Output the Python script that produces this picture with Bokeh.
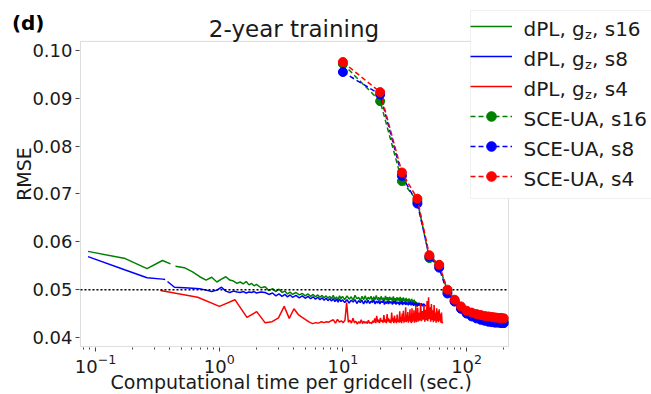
from bokeh.plotting import figure
from bokeh.models import (Range1d, FixedTicker, PrintfTickFormatter, Legend,
                          LegendItem, Label, LinearAxis, BoxAnnotation, Title)
from bokeh.embed import file_html
from bokeh.resources import INLINE

nan = float("nan")

# ---------------- data ----------------
y_ticks = [0.04, 0.05, 0.06, 0.07, 0.08, 0.09, 0.10]
x_ticks = [0.1, 1, 10, 100]
x_minor_ticks = [0.08, 0.09, 0.2, 0.3, 0.4, 0.5, 0.6, 0.7, 0.8, 0.9,
                 2, 3, 4, 5, 6, 7, 8, 9, 20, 30, 40, 50, 60, 70, 80, 90, 200]
x_limits = (0.0756, 218.0)       # axes box of the reference
y_limits = (0.0381, 0.1019)
threshold = 0.05

# SCE-UA
sce_x = [10, 20, 30, 40, 50, 60, 70, 80, 90, 100, 110, 120, 130, 140, 150,
         160, 170, 180, 190, 200]
sce_s16 = [0.0972, 0.0894, 0.0727, 0.0685, 0.0566, 0.0551, 0.0497, 0.0477,
           0.0462, 0.0452, 0.0447, 0.0443, 0.0440, 0.0438, 0.0437, 0.0436,
           0.0435, 0.0434, 0.0434, 0.0433]
sce_s8 = [0.0955, 0.0908, 0.0738, 0.0680, 0.0569, 0.0546, 0.0492, 0.0475,
          0.0460, 0.0450, 0.0444, 0.0440, 0.0437, 0.0435, 0.0433, 0.0432,
          0.0431, 0.0431, 0.0430, 0.0430]
sce_s4 = [0.0976, 0.0913, 0.0745, 0.0690, 0.0572, 0.0552, 0.0500, 0.0479,
          0.0465, 0.0456, 0.0452, 0.0449, 0.0447, 0.0445, 0.0444, 0.0443,
          0.0442, 0.0441, 0.0441, 0.0440]

# dPL, s16
dpl16_x = [0.087, 0.174, 0.261, 0.348, 0.404, nan, 0.443, 0.522, 0.609, 0.696,
           0.783, 0.870, 0.957, 1.044, 1.131, 1.218, 1.305, 1.392, 1.479, 1.566,
           1.653, 1.740, 1.827, 1.914, 2.001, 2.175, 2.349, 2.523, 2.697, 2.871,
           3.045, 3.219, 3.393, 3.567, 3.741, 3.915, 4.176, 4.437, 4.698, 4.959,
           5.220, 5.481, 5.742, 6.003, 6.264, 6.525, 6.786, 7.047, 7.308, 7.569,
           7.830, 8.091, 8.352, 8.613, 8.874, 9.135, 9.396, 9.657, 9.918, 10.35,
           10.79, 11.22, 11.66, 12.09, 12.53, 12.96, 13.40, 13.83, 14.27, 14.70,
           15.14, 15.57, 16.01, 16.44, 16.88, 17.31, 17.75, 18.18, 18.62, 19.05,
           19.49, 19.92, 20.36, 20.79, 21.23, 21.66, 22.10, 22.53, 22.97, 23.40,
           23.84, 24.27, 24.71, 25.14, 25.58, 26.01, 26.45, 26.88, 27.32, 27.75,
           28.19, 28.62, 29.06, 29.49, 29.93, 30.36, 30.80, 31.23, 31.67, 32.10,
           32.54, 32.97, 33.41, 33.84, 34.28, 34.71, 35.15, 35.58, 36.02, 36.45,
           36.89, 37.32, 37.76, 38.19, 38.63, 39.06, 39.50, 39.93, 40.37, 40.80]
dpl16_y = [0.0580, 0.0565, 0.0544, 0.0561, 0.0554, nan, 0.0549, 0.0546, 0.0537, 0.0527,
           0.0520, 0.0526, 0.0516, 0.0522, 0.0527, 0.0520, 0.0518, 0.0513, 0.0516, 0.0512,
           0.0517, 0.0510, 0.0513, 0.0508, 0.0511, 0.0504, 0.0506, 0.0498, 0.0502, 0.0496,
           0.0501, 0.0494, 0.0497, 0.0491, 0.0495, 0.0490, 0.0494, 0.0489, 0.0492, 0.0487,
           0.0491, 0.0486, 0.0490, 0.0485, 0.0489, 0.0484, 0.0488, 0.0483, 0.0487, 0.0482,
           0.0486, 0.0481, 0.0488, 0.0480, 0.0485, 0.0479, 0.0487, 0.0481, 0.0486, 0.0479,
           0.0487, 0.0480, 0.0485, 0.0478, 0.0488, 0.0481, 0.0484, 0.0477, 0.0486, 0.0479,
           0.0487, 0.0478, 0.0484, 0.0480, 0.0486, 0.0477, 0.0485, 0.0479, 0.0488, 0.0478,
           0.0484, 0.0477, 0.0486, 0.0479, 0.0483, 0.0476, 0.0487, 0.0478, 0.0484, 0.0476,
           0.0485, 0.0479, 0.0483, 0.0475, 0.0486, 0.0477, 0.0482, 0.0476, 0.0484, 0.0477,
           0.0483, 0.0475, 0.0485, 0.0476, 0.0482, 0.0474, 0.0484, 0.0476, 0.0481, 0.0473,
           0.0483, 0.0475, 0.0480, 0.0472, 0.0482, 0.0474, 0.0479, 0.0471, 0.0481, 0.0473,
           0.0478, 0.0468, 0.0479, 0.0470, 0.0476, 0.0466, 0.0474, 0.0464, 0.0471, 0.0466]

# dPL, s8
dpl8_x = [0.087, 0.174, 0.261, 0.348, 0.366, nan, 0.382, 0.435, 0.522, 0.609,
          0.696, 0.783, 0.870, 0.957, 1.044, 1.131, 1.218, 1.305, 1.392, 1.479,
          1.566, 1.653, 1.740, 1.827, 1.914, 2.001, 2.175, 2.349, 2.523, 2.697,
          2.871, 3.045, 3.219, 3.393, 3.567, 3.741, 3.915, 4.176, 4.437, 4.698,
          4.959, 5.220, 5.481, 5.742, 6.003, 6.264, 6.525, 6.786, 7.047, 7.308,
          7.569, 7.830, 8.091, 8.352, 8.613, 8.874, 9.135, 9.396, 9.657, 9.918,
          10.35, 10.79, 11.22, 11.66, 12.09, 12.53, 12.96, 13.40, 13.83, 14.27,
          14.70, 15.14, 15.57, 16.01, 16.44, 16.88, 17.31, 17.75, 18.18, 18.62,
          19.05, 19.49, 19.92, 20.36, 20.79, 21.23, 21.66, 22.10, 22.53, 22.97,
          23.40, 23.84, 24.27, 24.71, 25.14, 25.58, 26.01, 26.45, 26.88, 27.32,
          27.75, 28.19, 28.62, 29.06, 29.49, 29.93, 30.36, 30.80, 31.23, 31.67,
          32.10, 32.54, 32.97, 33.41, 33.84, 34.28, 34.71, 35.15, 35.58, 36.02,
          36.45, 36.89, 37.32, 37.76, 38.19, 38.63, 39.06, 39.50, 39.93, 40.37,
          40.80, 41.24, 41.67, 42.11, 42.54, 42.98, 43.41, 43.85, 44.28, 44.72,
          45.15, 45.59, 46.02, 46.46]
dpl8_y = [0.0569, 0.0541, 0.0525, 0.0522, 0.0521, nan, 0.0517, 0.0505, 0.0504, 0.0503,
          0.0502, 0.0499, 0.0496, 0.0499, 0.0505, 0.0497, 0.0494, 0.0497, 0.0495, 0.0494,
          0.0496, 0.0493, 0.0495, 0.0494, 0.0496, 0.0493, 0.0495, 0.0494, 0.0490, 0.0493,
          0.0487, 0.0491, 0.0486, 0.0490, 0.0485, 0.0489, 0.0484, 0.0488, 0.0483, 0.0487,
          0.0482, 0.0486, 0.0481, 0.0485, 0.0480, 0.0484, 0.0479, 0.0483, 0.0478, 0.0482,
          0.0477, 0.0481, 0.0476, 0.0481, 0.0475, 0.0480, 0.0474, 0.0480, 0.0475, 0.0479,
          0.0473, 0.0479, 0.0472, 0.0478, 0.0474, 0.0479, 0.0471, 0.0477, 0.0473, 0.0478,
          0.0470, 0.0477, 0.0472, 0.0478, 0.0471, 0.0476, 0.0473, 0.0479, 0.0470, 0.0476,
          0.0472, 0.0477, 0.0470, 0.0476, 0.0473, 0.0478, 0.0469, 0.0475, 0.0471, 0.0477,
          0.0470, 0.0476, 0.0472, 0.0475, 0.0469, 0.0476, 0.0471, 0.0477, 0.0469, 0.0475,
          0.0471, 0.0474, 0.0468, 0.0475, 0.0470, 0.0476, 0.0468, 0.0474, 0.0470, 0.0475,
          0.0468, 0.0474, 0.0469, 0.0473, 0.0467, 0.0474, 0.0469, 0.0475, 0.0467, 0.0473,
          0.0468, 0.0474, 0.0466, 0.0472, 0.0468, 0.0473, 0.0466, 0.0472, 0.0467, 0.0471,
          0.0466, 0.0473, 0.0467, 0.0471, 0.0465, 0.0472, 0.0466, 0.0470, 0.0465, 0.0471,
          0.0466, 0.0470, 0.0465, 0.0468]

# dPL, s4
dpl4_x = [0.335, 0.670, 1.005, 1.340, 1.675, 2.010, 2.345, 2.680, 3.015, 3.350,
          3.685, 4.020, 4.355, 4.690, 5.025, 5.360, 5.695, 6.030, 6.365, 6.700,
          7.035, 7.370, 7.705, 8.040, 8.375, 8.710, 9.045, 9.380, 9.715, 10.05,
          10.39, 10.72, 11.06, 11.39, 11.73, 12.06, 12.40, 12.73, 13.07, 13.40,
          13.74, 14.07, 14.41, 14.74, 15.08, 15.41, 15.75, 16.08, 16.42, 16.75,
          17.09, 17.42, 17.76, 18.09, 18.43, 18.76, 19.10, 19.43, 19.77, 20.10,
          20.44, 20.77, 21.11, 21.44, 21.78, 22.11, 22.45, 22.78, 23.12, 23.45,
          23.79, 24.12, 24.46, 24.79, 25.13, 25.46, 25.80, 26.13, 26.47, 26.80,
          27.14, 27.47, 27.81, 28.14, 28.48, 28.81, 29.15, 29.48, 29.82, 30.15,
          30.49, 30.82, 31.16, 31.49, 31.83, 32.16, 32.50, 32.83, 33.17, 33.50,
          33.84, 34.17, 34.51, 34.84, 35.18, 35.51, 35.85, 36.18, 36.52, 36.85,
          37.19, 37.52, 37.86, 38.19, 38.53, 38.86, 39.20, 39.53, 39.87, 40.20,
          40.54, 41.21, 41.88, 42.55, 43.22, 43.89, 44.56, 45.23, 45.90, 46.57,
          47.24, 47.91, 48.58, 49.25, 49.92, 50.59, 51.26, 51.93, 52.60, 53.27,
          53.94, 54.61, 55.28, 55.95, 56.62, 57.29, 57.96, 58.63, 59.30, 59.97,
          60.64, 61.31, 61.98, 62.65, 63.32, 63.99]
dpl4_y = [0.0498, 0.0484, 0.0465, 0.0479, 0.0442, 0.0454, 0.0431, 0.0433, 0.0441, 0.0465,
          0.0440, 0.0460, 0.0448, 0.0442, 0.0437, 0.0432, 0.0429, 0.0431, 0.0430, 0.0433,
          0.0431, 0.0433, 0.0432, 0.0435, 0.0437, 0.0430, 0.0438, 0.0432, 0.0435, 0.0431,
          0.0436, 0.0473, 0.0432, 0.0436, 0.0430, 0.0440, 0.0431, 0.0434, 0.0428, 0.0433,
          0.0430, 0.0437, 0.0429, 0.0434, 0.0430, 0.0433, 0.0429, 0.0436, 0.0430, 0.0431,
          0.0429, 0.0435, 0.0431, 0.0440, 0.0430, 0.0445, 0.0432, 0.0437, 0.0430, 0.0441,
          0.0433, 0.0436, 0.0431, 0.0447, 0.0432, 0.0438, 0.0430, 0.0449, 0.0433, 0.0440,
          0.0431, 0.0437, 0.0430, 0.0452, 0.0433, 0.0441, 0.0430, 0.0446, 0.0432, 0.0439,
          0.0430, 0.0448, 0.0433, 0.0436, 0.0431, 0.0455, 0.0432, 0.0443, 0.0430, 0.0450,
          0.0434, 0.0456, 0.0431, 0.0441, 0.0433, 0.0463, 0.0432, 0.0447, 0.0434, 0.0453,
          0.0431, 0.0444, 0.0435, 0.0459, 0.0432, 0.0448, 0.0430, 0.0461, 0.0433, 0.0442,
          0.0436, 0.0457, 0.0431, 0.0450, 0.0434, 0.0466, 0.0432, 0.0445, 0.0437, 0.0462,
          0.0433, 0.0452, 0.0435, 0.0471, 0.0434, 0.0455, 0.0437, 0.0468, 0.0433, 0.0458,
          0.0436, 0.0476, 0.0434, 0.0484, 0.0438, 0.0463, 0.0433, 0.0470, 0.0436, 0.0457,
          0.0432, 0.0468, 0.0435, 0.0452, 0.0431, 0.0461, 0.0434, 0.0455, 0.0432, 0.0459,
          0.0435, 0.0449, 0.0431, 0.0452, 0.0430, 0.0433]

GREEN, BLUE, RED = "#008000", "#0000ff", "#ff0000"
FONT = "DejaVu Sans"
TXT = "#1a1a1a"
SPINE = "#8c8c8c"

# view ranges: the frame is stretched to the top/right canvas edges so the
# title and the legend (which stick out of the axes box) are not clipped
x_view = (0.07424, 3124.0)
y_view = (0.037905, 0.110454)
tag_y = 0.10585          # vertical place of the "(d)" panel tag

p = figure(width=651, height=394, x_axis_type="log",
           x_range=Range1d(*x_view), y_range=Range1d(*y_view),
           toolbar_location=None, output_backend="svg", title=None,
           min_border_left=79, min_border_right=0,
           min_border_top=0, min_border_bottom=47)
p.grid.visible = False
p.outline_line_color = None

p.yaxis.ticker = FixedTicker(ticks=y_ticks)
p.yaxis.formatter = PrintfTickFormatter(format="%.2f")
p.xaxis.ticker = FixedTicker(ticks=x_ticks, minor_ticks=x_minor_ticks)
for ax in (p.xaxis[0], p.yaxis[0]):
    ax.major_label_text_font = FONT
    ax.major_label_text_font_size = "18px"
    ax.major_label_text_color = TXT
    ax.axis_line_color = None
    ax.major_tick_line_color = "#444444"
    ax.minor_tick_line_color = "#444444"
    ax.major_tick_in = 0
    ax.major_tick_out = 4
    ax.minor_tick_in = 0
p.yaxis.minor_tick_out = 0
p.xaxis.minor_tick_out = 2
p.yaxis.major_label_standoff = 3
p.xaxis.major_label_standoff = 2
p.yaxis.axis_label = "RMSE"
p.yaxis.axis_label_text_font = FONT
p.yaxis.axis_label_text_font_size = "19px"
p.yaxis.axis_label_text_font_style = "normal"
p.yaxis.axis_label_text_color = TXT
p.yaxis.axis_label_standoff = -6

# "(d)" tag: an outer left axis that only carries one bold label
tag_axis = LinearAxis(ticker=FixedTicker(ticks=[tag_y]),
                      major_label_overrides={tag_y: "(d)"},
                      axis_line_color=None, major_tick_line_color=None,
                      minor_tick_line_color=None, major_tick_out=0,
                      major_tick_in=0, minor_tick_out=0, minor_tick_in=0,
                      major_label_standoff=-34,
                      major_label_text_font=FONT,
                      major_label_text_font_size="20px",
                      major_label_text_font_style="bold",
                      major_label_text_color="black")
p.add_layout(tag_axis, "left")

# x-axis label as a title below the axis, aligned on the axes box
xlab = Title(text="Computational time per gridcell (sec.)", align="left",
             offset=31, text_font=FONT, text_font_size="19px",
             text_font_style="normal", text_color=TXT, standoff=-14)
p.add_layout(xlab, "below")

# axes box (spines)
p.add_layout(BoxAnnotation(left=x_limits[0], right=x_limits[1],
                           bottom=y_limits[0], top=y_limits[1],
                           fill_alpha=0, fill_color=None,
                           line_color=SPINE, line_width=1))

# dPL lines
r16 = p.line(dpl16_x, dpl16_y, line_color=GREEN, line_width=1.5)
r8 = p.line(dpl8_x, dpl8_y, line_color=BLUE, line_width=1.5)
r4 = p.line(dpl4_x, dpl4_y, line_color=RED, line_width=1.5)

# threshold
p.segment(x0=[x_limits[0]], x1=[x_limits[1]], y0=[threshold], y1=[threshold],
          line_color="black", line_width=1.5, line_dash="2 2")

# SCE-UA dashed lines with markers
sce = []
for ys, col in ((sce_s16, GREEN), (sce_s8, BLUE), (sce_s4, RED)):
    ln = p.line(sce_x, ys, line_color=col, line_width=1.5, line_dash="5 3")
    sc = p.scatter(sce_x, ys, marker="circle", size=9, fill_color=col,
                   line_color=col)
    sce.append([ln, sc])

# legend frame (opaque, covers the top-right corner of the axes box);
# screen units are relative to the frame's bottom-left corner
p.add_layout(BoxAnnotation(left=391, right=700, bottom=149, top=337,
                           left_units="screen", right_units="screen",
                           bottom_units="screen", top_units="screen",
                           fill_color="white", fill_alpha=1.0,
                           line_color="#cccccc", line_width=1))

legend = Legend(items=[
    LegendItem(label="dPL, gz, s16", renderers=[r16]),
    LegendItem(label="dPL, gz, s8", renderers=[r8]),
    LegendItem(label="dPL, gz, s4", renderers=[r4]),
    LegendItem(label="SCE-UA, s16", renderers=sce[0]),
    LegendItem(label="SCE-UA, s8", renderers=sce[1]),
    LegendItem(label="SCE-UA, s4", renderers=sce[2]),
], location=(391, 159))
legend.label_text_alpha = 0
legend.label_text_font = FONT
legend.label_text_font_size = "19px"
legend.label_width = 170
legend.glyph_width = 42
legend.glyph_height = 24
legend.label_height = 24
legend.label_standoff = 4
legend.spacing = 6
legend.padding = 7
legend.margin = 0
legend.border_line_color = None
legend.background_fill_alpha = 0.0
p.add_layout(legend)

# legend texts (with subscript z), vertically centred on each row
LX = 444
row_mid = [319 - 30 * i for i in range(6)]
dpl_suffix = [", s16", ", s8", ", s4"]
for i in range(3):
    ym = row_mid[i]
    p.add_layout(Label(x=LX, y=ym, x_units="screen", y_units="screen",
                       text="dPL, g", text_font=FONT, text_font_size="20px",
                       text_color=TXT, text_baseline="middle"))
    p.add_layout(Label(x=LX + 61.5, y=ym - 6, x_units="screen", y_units="screen",
                       text="z", text_font=FONT, text_font_size="13px",
                       text_color=TXT, text_baseline="middle"))
    p.add_layout(Label(x=LX + 68.5, y=ym, x_units="screen", y_units="screen",
                       text=dpl_suffix[i], text_font=FONT, text_font_size="20px",
                       text_color=TXT, text_baseline="middle"))
for i, t in enumerate(["SCE-UA, s16", "SCE-UA, s8", "SCE-UA, s4"]):
    p.add_layout(Label(x=LX, y=row_mid[3 + i], x_units="screen", y_units="screen",
                       text=t, text_font=FONT, text_font_size="20px",
                       text_color=TXT, text_baseline="middle"))

# title
p.add_layout(Label(x=214.5, y=319, x_units="screen", y_units="screen",
                   text="2-year training", text_font=FONT, text_font_size="23px",
                   text_color=TXT, text_align="center", text_baseline="middle"))

open("out.html", "w").write(file_html(p, INLINE))
